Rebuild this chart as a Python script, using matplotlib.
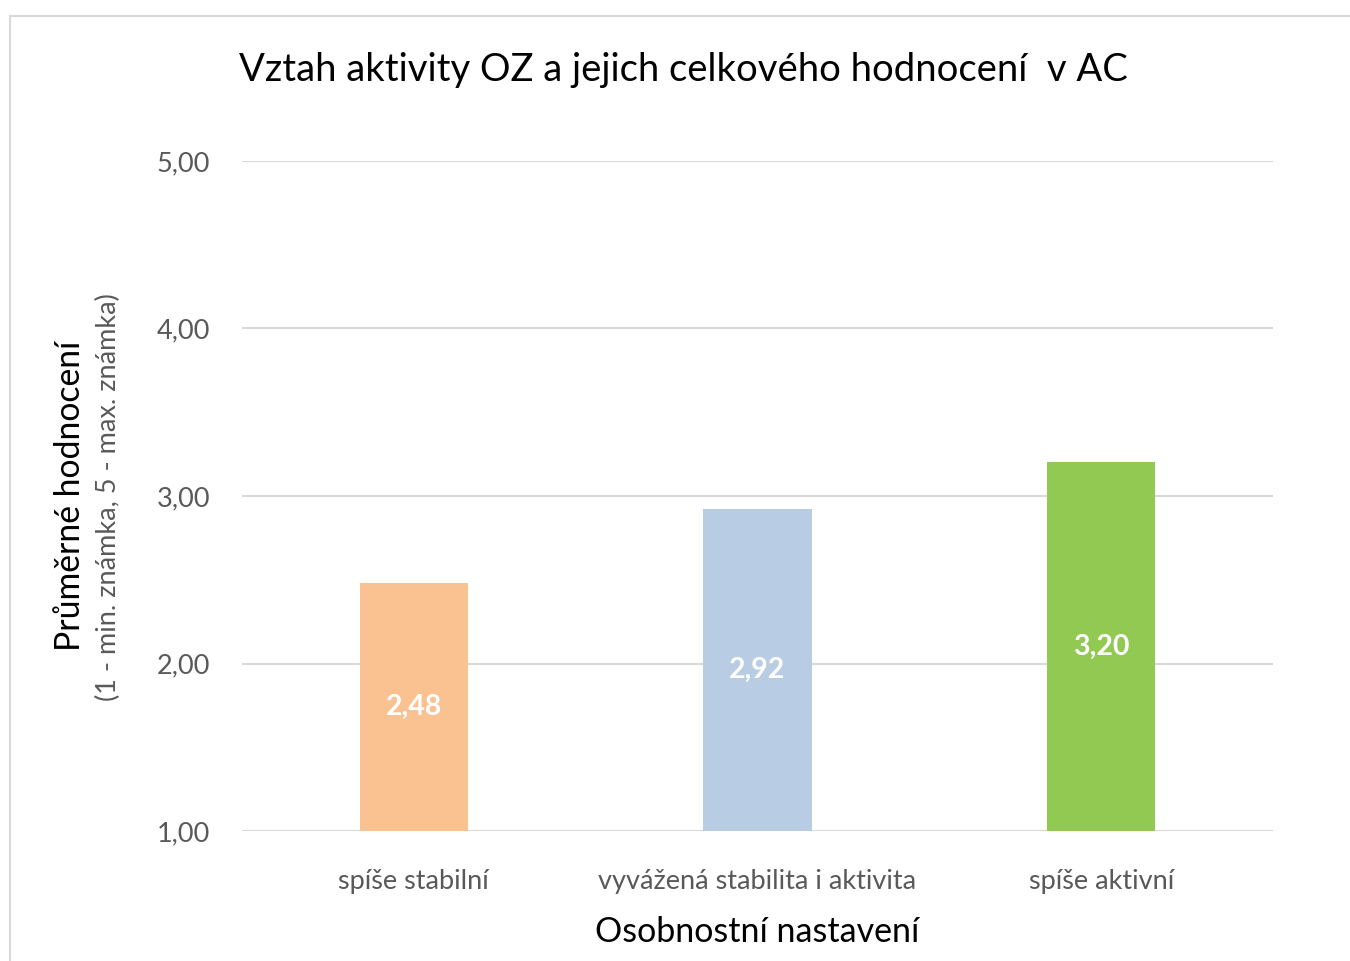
import matplotlib
matplotlib.use("Agg")
import matplotlib.pyplot as plt
from matplotlib.patches import Rectangle

plt.rcParams['font.family'] = ['Lato', 'DejaVu Sans']

categories = ["spíše stabilní", "vyvážená stabilita i aktivita", "spíše aktivní"]
values = [2.48, 2.92, 3.20]
labels = ["2,48", "2,92", "3,20"]
colors = ["#F9C290", "#B8CCE4", "#92C953"]
yticks = [1, 2, 3, 4, 5]
ytick_labels = ["1,00", "2,00", "3,00", "4,00", "5,00"]

fig = plt.figure(figsize=(13.5, 9.61), dpi=100)
fig.patches.append(Rectangle((10/1350, -0.1), 1.2, 1.1 - 16/961, transform=fig.transFigure,
                             fill=False, edgecolor="#d9d9d9", linewidth=1.5))

ax = fig.add_axes([242/1350, 130/961, (1273-242)/1350, (831-161)/961])
x = range(len(categories))
bars = ax.bar(x, [v - 1 for v in values], bottom=1, width=0.315, color=colors, zorder=3)
for i, v in enumerate(values):
    ax.text(i, (1 + v) / 2, labels[i], ha="center", va="center", color="white",
            fontsize=20.5, fontweight="bold", zorder=4)

ax.set_xlim(-0.5, 2.5)
ax.set_ylim(1, 5)
ax.set_yticks(yticks)
ax.set_yticklabels(ytick_labels)
ax.set_xticks(list(x))
ax.set_xticklabels(categories)
ax.tick_params(axis="both", length=0, labelsize=19.5, labelcolor="#595959")
ax.tick_params(axis="y", pad=23)
ax.tick_params(axis="x", pad=27)
ax.grid(axis="y", color="#d9d9d9", linewidth=1.5, zorder=0)
for s in ax.spines.values():
    s.set_visible(False)

ax.set_xlabel("Osobnostní nastavení", fontsize=24.5, color="black", labelpad=16)

fig.text(70/1350, 1 - 496/961, "Průměrné hodnocení", rotation=90, ha="center", va="center",
         fontsize=24.3, color="black")
fig.text(108/1350, 1 - 497/961, "(1 - min. známka, 5 - max. známka)", rotation=90, ha="center",
         va="center", fontsize=19.5, color="#595959")

fig.text(683/1350, 1 - 70/961, "Vztah aktivity OZ a jejich celkového hodnocení  v AC",
         ha="center", va="center", fontsize=27.5, color="black")

fig.savefig("out.png", dpi=100, facecolor="white")
